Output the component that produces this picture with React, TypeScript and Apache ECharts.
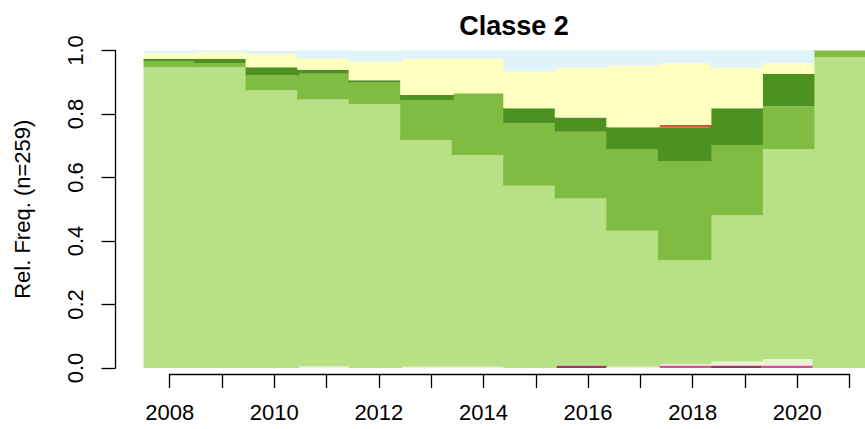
import React, { useEffect, useRef } from "react";
import * as echarts from "echarts";

const years = ["2008", "2009", "2010", "2011", "2012", "2013", "2014", "2015", "2016", "2017", "2018", "2019", "2020", "2021"];

// Relative frequencies per state, bottom to top of the stack
const darkMagenta = [0, 0, 0, 0, 0, 0, 0, 0, 0.0077, 0, 0, 0.0077, 0, 0];
const pink = [0, 0, 0, 0, 0, 0, 0, 0, 0, 0, 0.0077, 0, 0.0077, 0];
const cream = [0, 0, 0, 0.0054, 0, 0.004, 0.004, 0, 0, 0.004, 0.004, 0.0136, 0.021, 0];
const lightGreen = [0.947, 0.947, 0.874, 0.84, 0.831, 0.714, 0.667, 0.574, 0.526, 0.428, 0.3275, 0.46, 0.661, 0.979];
const mediumGreen = [0.02, 0.0139, 0.047, 0.081, 0.068, 0.126, 0.1945, 0.197, 0.2106, 0.258, 0.3126, 0.221, 0.1345, 0.021];
const darkGreen = [0.0073, 0.0126, 0.026, 0.0126, 0.0076, 0.0158, 0, 0.047, 0.045, 0.068, 0.106, 0.1156, 0.102, 0];
const red = [0, 0, 0, 0, 0, 0, 0, 0, 0, 0, 0.0077, 0, 0, 0];
const yellow = [0.0164, 0.021, 0.042, 0.035, 0.059, 0.114, 0.1086, 0.116, 0.156, 0.195, 0.1945, 0.1276, 0.0335, 0];
const lightBlue = [0.009, 0.0054, 0.0105, 0.026, 0.034, 0.026, 0.026, 0.066, 0.0546, 0.047, 0.04, 0.0546, 0.04, 0];

const stateNames = ["s1", "s2", "s3", "s4", "s5", "s6", "s7", "s8", "s9"];
const stateColors = ["#a0336a", "#dc4c9c", "#e6f5d0", "#b8e186", "#7fbc41", "#4d9221", "#d8532d", "#ffffbf", "#e0f3f8"];
const stateData = [darkMagenta, pink, cream, lightGreen, mediumGreen, darkGreen, red, yellow, lightBlue];

const FONT = "'Liberation Sans', Arial, sans-serif";

export default function App() {
  const ref = useRef<HTMLDivElement>(null);
  useEffect(() => {
    document.body.style.margin = "0";
    const chart = echarts.init(ref.current!, null, { renderer: "svg" });
    const barW = 52.3;
    const left0 = 143.5;
    chart.setOption({
      animation: false,
      backgroundColor: "#ffffff",
      title: {
        text: "Classe 2",
        left: 509,
        top: 7,
        textAlign: "center",
        textStyle: { fontSize: 27, fontWeight: "bold", color: "#000", fontFamily: FONT },
      },
      grid: [
        { left: left0, top: 50.5, width: barW * 14, height: 317.5 },
        { left: left0 + barW / 2, top: 373, width: barW * 13, height: 1 },
      ],
      xAxis: [
        { type: "category", gridIndex: 0, data: years, show: false, boundaryGap: true },
        {
          type: "category",
          gridIndex: 1,
          data: years,
          boundaryGap: false,
          axisLine: { show: true, lineStyle: { color: "#000", width: 1.3 } },
          axisTick: { show: true, length: 14, interval: 0, lineStyle: { color: "#000", width: 1.3 } },
          axisLabel: { interval: 1, fontSize: 22, margin: 27, color: "#000", fontFamily: FONT },
          splitLine: { show: false },
        },
      ],
      yAxis: [
        {
          type: "value",
          gridIndex: 0,
          min: 0,
          max: 1,
          interval: 0.2,
          offset: 28,
          name: "Rel. Freq. (n=259)",
          nameLocation: "middle",
          nameGap: 82,
          nameTextStyle: { fontSize: 22, color: "#000", fontFamily: FONT },
          axisLine: { show: true, lineStyle: { color: "#000", width: 1.3 } },
          axisTick: { show: true, length: 14, lineStyle: { color: "#000", width: 1.3 } },
          axisLabel: {
            rotate: 90,
            fontSize: 22,
            margin: 29,
            color: "#000",
            fontFamily: FONT,
            formatter: (v: number) => v.toFixed(1),
          },
          splitLine: { show: false },
        },
        { type: "value", gridIndex: 1, show: false },
      ],
      series: stateData.map((d, i) => ({
        name: stateNames[i],
        type: "bar",
        stack: "all",
        xAxisIndex: 0,
        yAxisIndex: 0,
        barWidth: barW + 1.2,
        data: d.map((v) => (v > 0 ? v : "-")),
        itemStyle: { color: stateColors[i] },
      })),
    });
    return () => chart.dispose();
  }, []);
  return <div ref={ref} style={{ width: 865, height: 429 }} />;
}
